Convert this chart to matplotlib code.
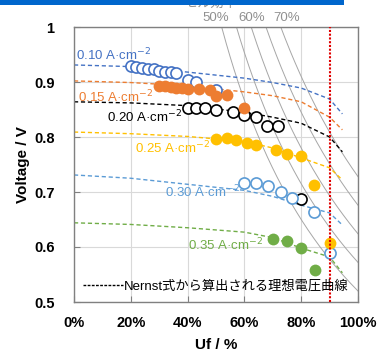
import matplotlib
matplotlib.use("Agg")
import matplotlib.pyplot as plt
import numpy as np
from matplotlib.lines import Line2D
from matplotlib.patches import Rectangle

plt.rcParams["font.family"] = ["Liberation Sans", "Noto Sans CJK JP", "DejaVu Sans"]

# current densities and colours
densities = ["0.10", "0.15", "0.20", "0.25", "0.30", "0.35"]
colours = ["#4472C4", "#ED7D31", "#000000", "#FFC000", "#5B9BD5", "#70AD47"]
filled = [False, True, False, True, False, True]

# measured points (Uf, V)
uf_010 = [0.20, 0.22, 0.24, 0.26, 0.28, 0.30, 0.32, 0.34, 0.36, 0.40, 0.43, 0.50]
v_010 = [0.929, 0.928, 0.926, 0.924, 0.923, 0.920, 0.919, 0.918, 0.917, 0.904, 0.900, 0.885]
uf_015 = [0.30, 0.32, 0.34, 0.36, 0.38, 0.40, 0.44, 0.48, 0.50, 0.54, 0.60]
v_015 = [0.893, 0.893, 0.891, 0.889, 0.889, 0.888, 0.887, 0.885, 0.875, 0.876, 0.853]
uf_020 = [0.40, 0.43, 0.46, 0.50, 0.56, 0.60, 0.64, 0.68, 0.72, 0.80]
v_020 = [0.853, 0.853, 0.853, 0.849, 0.845, 0.840, 0.836, 0.820, 0.820, 0.687]
uf_025 = [0.50, 0.54, 0.57, 0.61, 0.64, 0.71, 0.75, 0.80, 0.846, 0.90]
v_025 = [0.796, 0.798, 0.795, 0.789, 0.785, 0.776, 0.769, 0.765, 0.713, 0.607]
uf_030 = [0.60, 0.64, 0.684, 0.73, 0.767, 0.846, 0.90]
v_030 = [0.717, 0.717, 0.711, 0.700, 0.690, 0.664, 0.589]
uf_035 = [0.70, 0.75, 0.80, 0.85]
v_035 = [0.615, 0.611, 0.598, 0.558]

# Nernst curves
nernst_uf = [0.0, 0.2, 0.4, 0.6, 0.7, 0.8, 0.9, 0.945]
nernst_010 = [0.931, 0.928, 0.918, 0.907, 0.899, 0.889, 0.869, 0.842]
nernst_015 = [0.902, 0.899, 0.893, 0.882, 0.875, 0.864, 0.836, 0.813]
nernst_020 = [0.864, 0.862, 0.857, 0.845, 0.836, 0.825, 0.800, 0.773]
nernst_025 = [0.809, 0.806, 0.801, 0.792, 0.780, 0.762, 0.744, 0.722]
nernst_030 = [0.731, 0.725, 0.714, 0.703, 0.692, 0.676, 0.662, 0.640]
nernst_035 = [0.644, 0.641, 0.635, 0.627, 0.617, 0.598, 0.582, 0.553]

# label positions for current densities (Uf, V)
label_x = [0.008, 0.015, 0.115, 0.215, 0.32, 0.40]
label_y = [0.950, 0.873, 0.837, 0.780, 0.700, 0.604]

# cell efficiency iso-lines: V * Uf = const
eff_const = [0.52, 0.572, 0.624, 0.676, 0.728]
eff_labels = ["50%", "60%", "70%"]
eff_label_x = [0.50, 0.625, 0.75]

points = [(uf_010, v_010), (uf_015, v_015), (uf_020, v_020),
          (uf_025, v_025), (uf_030, v_030), (uf_035, v_035)]
nernst = [nernst_010, nernst_015, nernst_020, nernst_025, nernst_030, nernst_035]

fig = plt.figure(figsize=(3.78, 3.52), dpi=100)
ax = fig.add_axes([74 / 378, 1 - 302 / 352, 284 / 378, 275 / 352])

ax.set_xlim(0, 1)
ax.set_ylim(0.5, 1.0)
ax.set_xticks(np.arange(0, 1.01, 0.2))
ax.set_yticks(np.arange(0.5, 1.01, 0.1))
ax.set_xticklabels(["0%", "20%", "40%", "60%", "80%", "100%"], fontweight="bold", fontsize=10.5)
ax.set_yticklabels(["0.5", "0.6", "0.7", "0.8", "0.9", "1"], fontweight="bold", fontsize=10.5)
ax.tick_params(direction="in", length=4, color="#808080", pad=10)
ax.tick_params(axis="y", pad=14)
ax.grid(True, color="#D9D9D9", linewidth=0.8)
ax.set_axisbelow(True)
for s in ax.spines.values():
    s.set_color("#808080")
    s.set_linewidth(1.0)

# efficiency lines
uf_line = np.linspace(0.3, 1.0, 200)
for c in eff_const:
    ax.plot(uf_line, c / uf_line, color="#A6A6A6", linewidth=0.7, zorder=1)
for lab, x in zip(eff_labels, eff_label_x):
    ax.text(x, 1.006, lab, color="#909090", fontsize=9.5, ha="center", va="bottom", clip_on=False)

# Nernst dashed curves
for nv, col in zip(nernst, colours):
    ax.plot(nernst_uf, nv, color=col, linestyle=(0, (3, 2)), linewidth=1.0, zorder=2)

# measured points
for (x, y), col, f in zip(points, colours, filled):
    if f:
        ax.plot(x, y, "o", color=col, markersize=8.5, markeredgewidth=0, zorder=4)
    else:
        ax.plot(x, y, "o", markerfacecolor="white", markeredgecolor=col,
                markersize=8, markeredgewidth=1.2, zorder=3)

for d, col, x, y in zip(densities, colours, label_x, label_y):
    ax.text(x, y, d + " A·cm$^{-2}$", color=col, fontsize=9.5, ha="left", va="center", zorder=5)

# Uf = 90% limit
ax.axvline(0.9, color="#E00000", linestyle=(0, (1, 0.8)), linewidth=1.5, zorder=6)

handle = Line2D([], [], color="black", linestyle=(0, (2, 1)), linewidth=1.0)
leg = ax.legend([handle], ["Nernst式から算出される理想電圧曲線"], loc="lower center",
                bbox_to_anchor=(0.5, -0.01), frameon=False, fontsize=9.5,
                handlelength=3.0, handletextpad=0.1)
leg.set_zorder(7)

ax.set_xlabel("Uf / %", fontweight="bold", fontsize=11, labelpad=6)
ax.set_ylabel("Voltage / V", fontweight="bold", fontsize=11, labelpad=3)

# partially hidden title and header bar
fig.text(211 / 378, 1 - 10 / 352, "セル効率", color="#909090", fontsize=9.5, ha="center",
         va="bottom", family=["Noto Sans CJK JP"], zorder=1)
fig.patches.append(Rectangle((0, 1 - 5 / 352), 344 / 378, 5 / 352, transform=fig.transFigure,
                             facecolor="#0066CC", edgecolor="none", zorder=10))

fig.savefig("out.png", dpi=100)
